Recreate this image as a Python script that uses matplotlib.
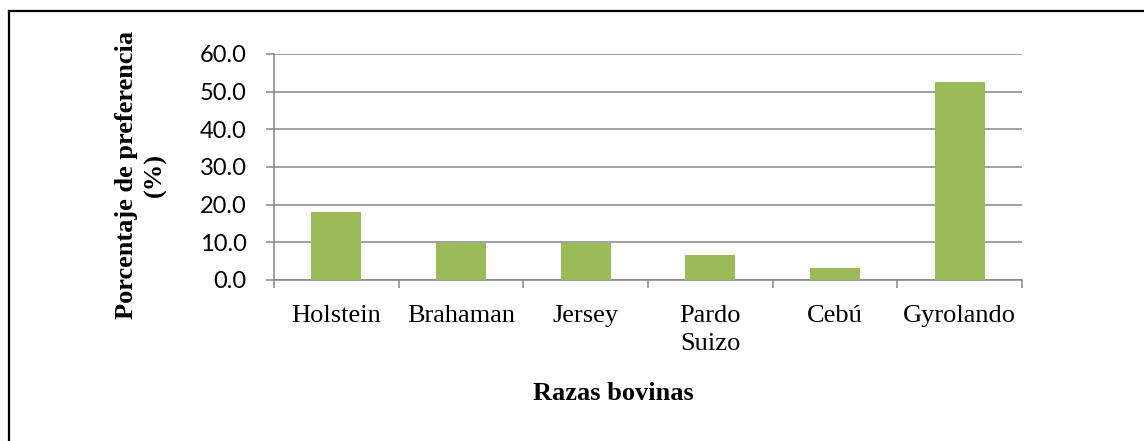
import matplotlib
matplotlib.use("Agg")
import matplotlib.pyplot as plt
from matplotlib.lines import Line2D
import numpy as np

categories = ["Holstein", "Brahaman", "Jersey", "Pardo\nSuizo", "Cebú", "Gyrolando"]
values = [18.0, 9.8, 9.8, 6.6, 3.3, 52.5]
yticks = [0, 10, 20, 30, 40, 50, 60]

W, H = 1144, 441
fig = plt.figure(figsize=(W / 100, H / 100), dpi=100)
ax = fig.add_axes([274 / W, 1 - 280 / H, (1022 - 274) / W, (280 - 54) / H])

x = np.arange(len(categories))
ax.bar(x, values, width=0.4, color="#9BBB59", zorder=3)

ax.set_xlim(-0.5, len(categories) - 0.5)
ax.set_ylim(0, 60)
ax.set_yticks(yticks)
ax.set_yticklabels([f"{v:.1f}" for v in yticks], fontfamily="Lato", fontsize=17)
ax.set_xticks(x)
ax.set_xticklabels(categories, fontfamily="Liberation Serif", fontsize=19,
                   linespacing=1.35)
ax.set_xticks(np.arange(-0.5, len(categories), 1.0), minor=True)

grid_c = "#868686"
ax.yaxis.grid(True, color=grid_c, linewidth=1.1, zorder=0)
ax.set_axisbelow(True)
for s in ["top", "right"]:
    ax.spines[s].set_visible(False)
for s in ["left", "bottom"]:
    ax.spines[s].set_color(grid_c)
    ax.spines[s].set_linewidth(1.1)

ax.tick_params(axis="y", which="major", length=5.8, color=grid_c, width=1.1, pad=14)
ax.tick_params(axis="x", which="major", length=0, pad=18)
ax.tick_params(axis="x", which="minor", length=5.8, color=grid_c, width=1.1, direction="out")

fig.text(613 / W, 1 - 393 / H, "Razas bovinas", fontfamily="Liberation Serif",
         fontweight="bold", fontsize=19, ha="center", va="center")
fig.text(141 / W, 1 - 175 / H, "Porcentaje de preferencia\n(%)", fontfamily="Liberation Serif",
         fontweight="bold", fontsize=19, ha="center", va="center", rotation=90,
         multialignment="center", linespacing=1.35)

fig.add_artist(Line2D([9 / W, 1.0], [1 - 11 / H, 1 - 11 / H], transform=fig.transFigure,
                      color="black", linewidth=1.6))
fig.add_artist(Line2D([9 / W, 9 / W], [1 - 11 / H, 0.0], transform=fig.transFigure,
                      color="black", linewidth=1.6))

fig.savefig("out.png", dpi=100)
